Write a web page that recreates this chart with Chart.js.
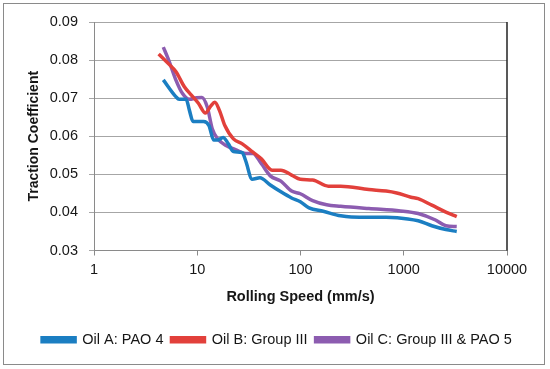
<!DOCTYPE html>
<html>
<head>
<meta charset="utf-8">
<script src="https://cdn.jsdelivr.net/npm/chart.js@4/dist/chart.umd.min.js"></script>
<style>
  html, body { margin: 0; padding: 0; background: #fff; }
  #wrap { width: 550px; height: 369px; }
</style>
</head>
<body>
<div id="wrap"><canvas id="chart" width="550" height="369"></canvas></div>
<script>
// values
const speedA = [4.69, 6.2, 6.67, 7.8, 8.4, 9.1, 11.5, 13, 14.4, 15.8, 17.8, 20, 22.4, 27.3, 29.5, 34, 40.4, 51, 64.6, 81.9, 99.6, 121, 166, 245, 310, 675, 1095, 1380, 1870, 2560, 3260];
const tractionA = [0.0748, 0.0704, 0.0697, 0.0697, 0.0668, 0.0639, 0.0639, 0.0628, 0.0590, 0.0590, 0.0597, 0.0580, 0.0560, 0.0557, 0.0535, 0.0487, 0.0491, 0.0472, 0.0454, 0.0438, 0.0428, 0.0412, 0.0403, 0.0391, 0.0388, 0.0387, 0.0383, 0.0378, 0.0365, 0.0355, 0.0350];

const speedB = [4.23, 5.19, 6.2, 7.5, 8.77, 10.3, 12, 13.5, 14.8, 16.4, 18.5, 22.4, 27.3, 34.6, 42, 53, 64.6, 82, 99.6, 131, 186, 245, 459, 675, 855, 1175, 1380, 1870, 2560, 3260];
const tractionB = [0.0816, 0.0792, 0.0770, 0.0730, 0.0708, 0.0686, 0.0661, 0.0679, 0.0689, 0.0668, 0.0628, 0.0593, 0.0580, 0.0558, 0.0540, 0.0511, 0.0511, 0.0498, 0.0487, 0.0485, 0.0469, 0.0469, 0.0460, 0.0456, 0.0451, 0.0440, 0.0436, 0.0419, 0.0401, 0.0389];

const speedC = [4.69, 5.27, 6.2, 7.2, 8.4, 9.86, 11.1, 12.5, 14, 15.8, 19.2, 23.4, 29.6, 34.6, 42, 51, 64.6, 82, 99.6, 131, 179, 245, 459, 930, 1380, 2030, 2560, 3260];
const tractionC = [0.0834, 0.0801, 0.0748, 0.0712, 0.0697, 0.0701, 0.0702, 0.0677, 0.0619, 0.0593, 0.0575, 0.0565, 0.0555, 0.0555, 0.0527, 0.0496, 0.0482, 0.0456, 0.0449, 0.0431, 0.0420, 0.0416, 0.0410, 0.0404, 0.0397, 0.0380, 0.0365, 0.0363];

const seriesNames = ['Oil A: PAO 4', 'Oil B: Group III', 'Oil C: Group III & PAO 5'];
const seriesColors = ['#1b7ec2', '#e2403b', '#8c5cb0'];
const xTickValues = [1, 10, 100, 1000, 10000];
const yTickValues = [0.03, 0.04, 0.05, 0.06, 0.07, 0.08, 0.09];

const FONT = 'Liberation Sans, Arial, sans-serif';
const TEXT = '#161616';

function toPoints(xs, ys) {
  return xs.map((x, i) => ({ x, y: ys[i] }));
}

const pairs = [[speedA, tractionA], [speedB, tractionB], [speedC, tractionC]];

const datasets = pairs.map((p, i) => ({
  label: seriesNames[i],
  data: toPoints(p[0], p[1]),
  borderColor: seriesColors[i],
  backgroundColor: seriesColors[i],
  borderWidth: 3.5,
  pointRadius: 0,
  tension: 0.4,
  cubicInterpolationMode: 'monotone',
  fill: false
}));

// outer frame + dark right edge of the plot area
const framePlugin = {
  id: 'frame',
  afterDraw(chart) {
    const ctx = chart.ctx;
    const a = chart.chartArea;
    ctx.save();
    ctx.strokeStyle = '#8a8a8a';
    ctx.lineWidth = 1;
    ctx.strokeRect(3.5, 3.5, 541, 361);
    ctx.strokeStyle = '#222';
    ctx.lineWidth = 1.5;
    ctx.beginPath();
    ctx.moveTo(a.right, a.top);
    ctx.lineTo(a.right, a.bottom);
    ctx.stroke();
    ctx.restore();
  }
};

new Chart(document.getElementById('chart'), {
  type: 'line',
  data: { datasets },
  plugins: [framePlugin],
  options: {
    responsive: false,
    animation: false,
    layout: { padding: { left: 4, right: 0, top: 22, bottom: 12 } },
    plugins: {
      legend: {
        position: 'bottom',
        labels: {
          boxWidth: 33,
          boxHeight: 4,
          padding: 8,
          color: TEXT,
          font: { family: FONT, size: 14.5 }
        }
      },
      tooltip: { enabled: false }
    },
    scales: {
      x: {
        type: 'logarithmic',
        min: 1,
        max: 10000,
        afterBuildTicks: s => { s.ticks = xTickValues.map(v => ({ value: v })); },
        afterFit: s => { s.height = 74; },
        ticks: {
          color: TEXT,
          padding: 6,
          font: { family: FONT, size: 14.5 },
          callback: v => String(v)
        },
        grid: { drawOnChartArea: false, tickLength: 5, color: '#8a8a8a' },
        border: { color: '#8a8a8a' },
        title: {
          display: true,
          text: 'Rolling Speed (mm/s)',
          color: TEXT,
          padding: { top: 4, bottom: 19 },
          font: { family: FONT, size: 14.5, weight: 'bold' }
        }
      },
      y: {
        min: 0.03,
        max: 0.09,
        afterBuildTicks: s => { s.ticks = yTickValues.map(v => ({ value: v })); },
        afterFit: s => { s.width = 90; },
        ticks: {
          color: TEXT,
          padding: 11,
          font: { family: FONT, size: 14.5 },
          callback: v => v.toFixed(2)
        },
        grid: { color: '#a6a6a6', tickLength: 5, lineWidth: 1 },
        border: { color: '#8a8a8a' },
        title: {
          display: true,
          text: 'Traction Coefficient',
          color: TEXT,
          padding: { top: 22, bottom: 0 },
          font: { family: FONT, size: 14, weight: 'bold' }
        }
      },
      // empty right axis, only reserves the margin right of the plot
      yRight: {
        position: 'right',
        min: 0.03,
        max: 0.09,
        afterFit: s => { s.width = 43; },
        ticks: { display: false },
        grid: { display: false },
        border: { display: false }
      }
    }
  }
});
</script>
</body>
</html>
